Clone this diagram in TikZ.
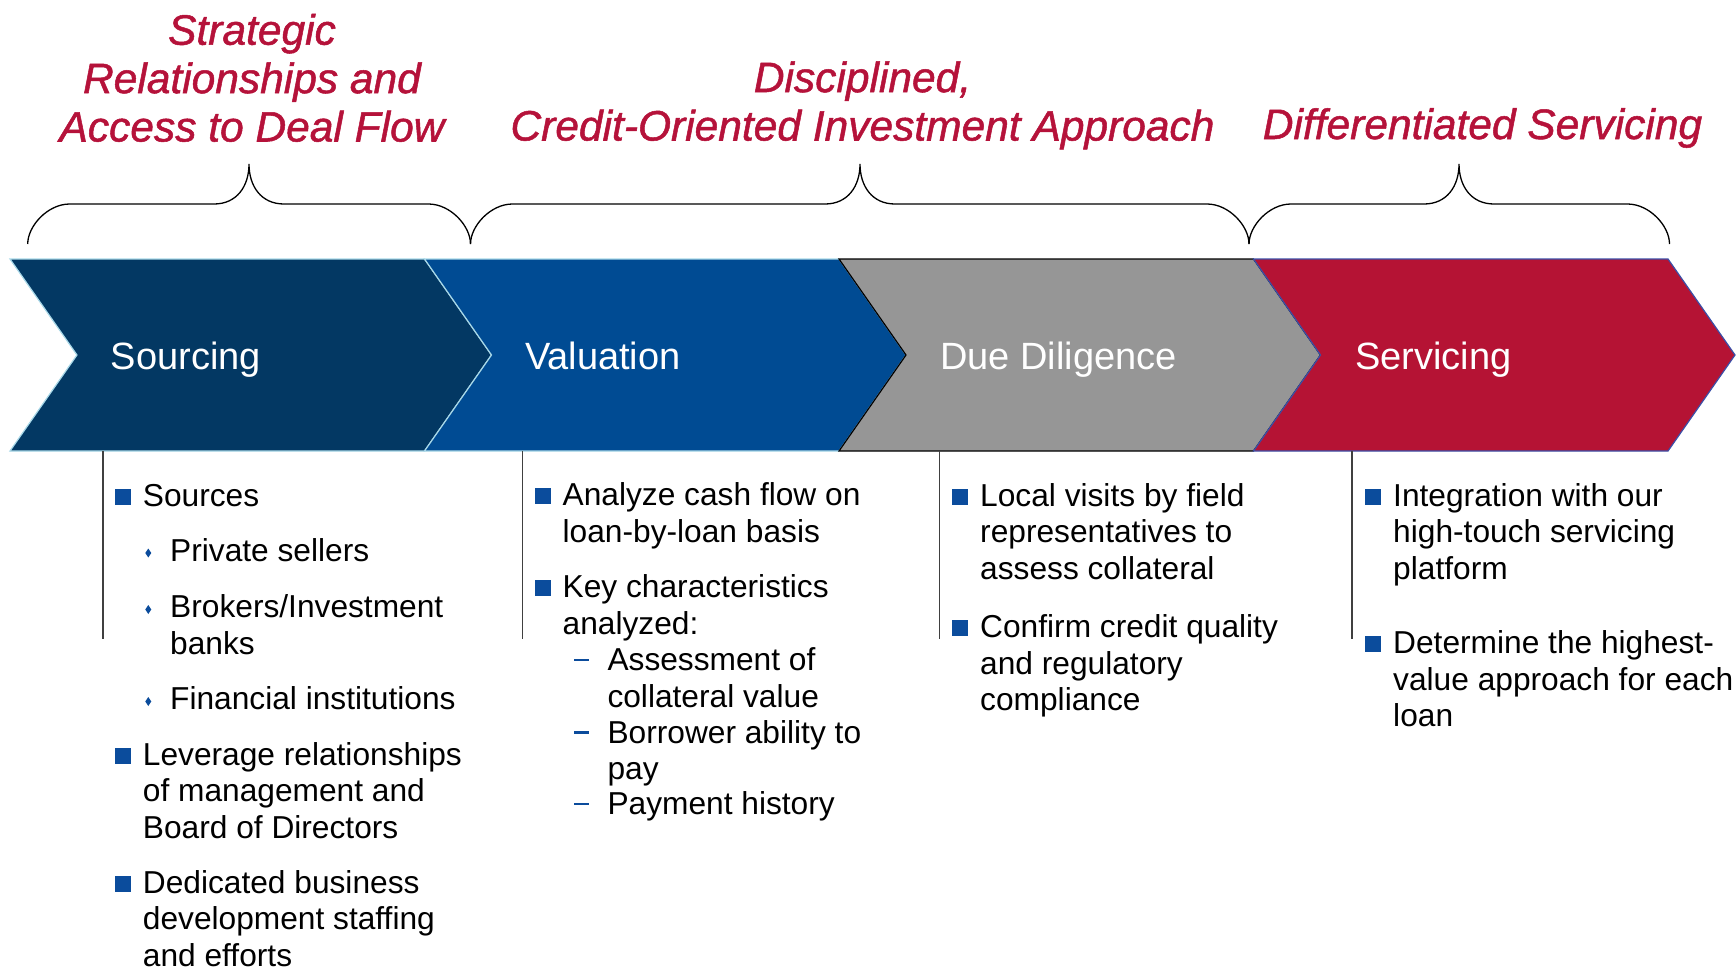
\documentclass[tikz,border=0pt]{standalone}
\usepackage{fontspec}
\setmainfont{Liberation Sans}
\newfontfamily\themefont[FakeBold=1.2]{Liberation Sans Italic}
\usetikzlibrary{calc}

\definecolor{srcnavy}{HTML}{033863}
\definecolor{valblue}{HTML}{004B93}
\definecolor{ddgray}{HTML}{969696}
\definecolor{servred}{HTML}{B51334}
\definecolor{themered}{HTML}{B5123A}
\definecolor{bulletblue}{HTML}{0B4C9C}
\definecolor{edgecyan}{HTML}{A8D8E8}
\definecolor{edgeblue}{HTML}{3A4FA8}
\definecolor{sepgray}{HTML}{404040}

% Bullets sit on the first line of a text node; the node's base is its last
% line, so #2 is the distance from the first line down to that base line.
\newcommand\sqbullet[2]{\fill[bulletblue] ($(#1.base west)+(-27.7,-1.5-#2)$) rectangle ++(16,-16);}
\newcommand\dmbullet[2]{\fill[bulletblue] ($(#1.base west)+(-21.7,-12.5-#2)$) -- ++(3,4.5) -- ++(-3,4.5) -- ++(-3,-4.5) -- cycle;}
\newcommand\dashbullet[2]{\fill[bulletblue] ($(#1.base west)+(-33.3,-9.5-#2)$) rectangle ++(15,-2.5);}
% curly brace from L to R with its tip at M
\newcommand\topbrace[3]{%
  \draw[brace] (#1,244) .. controls (#1,226) and (#1+20,204) .. (#1+42,204)
    -- (#2-35,204) .. controls (#2-12,204) and (#2,186) .. (#2,164)
    .. controls (#2,186) and (#2+12,204) .. (#2+35,204)
    -- (#3-42,204) .. controls (#3-20,204) and (#3,226) .. (#3,244);}

\begin{document}
\begin{tikzpicture}[x=1pt,y=-1pt,
  body/.style={font=\fontsize{31.7}{36.5}\selectfont, inner sep=0pt, anchor=base west, align=left, text=black},
  stage/.style={font=\fontsize{38}{44}\selectfont, text=white, inner sep=0pt, anchor=base west},
  theme/.style={font=\themefont\fontsize{42.5}{48.4}\selectfont, text=themered, inner sep=0pt, anchor=base, align=center},
  chev/.style={line width=1.2pt, line join=miter},
  brace/.style={black, line width=1.3pt},
  sepline/.style={sepgray, line width=1.3pt}]
\useasboundingbox (0,0) rectangle (1736,969);

% stage chevrons
\path[chev, fill=srcnavy, draw=edgecyan] (10,259) -- ++(414.5,0) -- ++(67,96) -- ++(-67,96) -- ++(-414.5,0) -- ++(67,-96) -- cycle;
\path[chev, fill=valblue, draw=edgecyan] (424.5,259) -- ++(414.5,0) -- ++(67,96) -- ++(-67,96) -- ++(-414.5,0) -- ++(67,-96) -- cycle;
\path[chev, fill=ddgray, draw=black] (839,259) -- ++(414.5,0) -- ++(67,96) -- ++(-67,96) -- ++(-414.5,0) -- ++(67,-96) -- cycle;
\path[chev, fill=servred, draw=edgeblue] (1253.5,259) -- ++(414.5,0) -- ++(67,96) -- ++(-67,96) -- ++(-414.5,0) -- ++(67,-96) -- cycle;

\node[stage] (sourcing) at (110.7,369.5) {Sourcing};
\node[stage] (valuation) at (524.8,369.5) {Valuation};
\node[stage] (diligence) at (940,369.5) {Due Diligence};
\node[stage] (servicing) at (1355,369.5) {Servicing};

% themes and their braces
\node[theme] (theme1) at (252,141.5) {Strategic\\Relationships and\\Access to Deal Flow};
\node[theme] (theme2) at (862.5,140.5) {Disciplined,\\Credit-Oriented Investment Approach};
\node[theme] (theme3) at (1482.5,139) {Differentiated Servicing};

\topbrace{27.7}{249}{470.5}
\topbrace{470.5}{860}{1249}
\topbrace{1249}{1459}{1669.5}

% column separators
\draw[sepline] (103,451) -- (103,639);
\draw[sepline] (522.7,451) -- (522.7,639);
\draw[sepline] (939.5,451) -- (939.5,639);
\draw[sepline] (1352,451) -- (1352,639);

% Sourcing column
\node[body] (src) at (142.7,506) {Sources};
\node[body] (ps) at (170,561) {Private sellers};
\node[body] (bk) at (170,654) {Brokers/Investment\\banks};
\node[body] (fi) at (170,709.5) {Financial institutions};
\node[body] (lev) at (142.7,838) {Leverage relationships\\of management and\\Board of Directors};
\node[body] (ded) at (142.7,966) {Dedicated business\\development staffing\\and efforts};
\sqbullet{src}{0}\dmbullet{ps}{0}\dmbullet{bk}{36.5}\dmbullet{fi}{0}\sqbullet{lev}{73}\sqbullet{ded}{73}

% Valuation column
\node[body] (acf) at (562.5,542) {Analyze cash flow on\\loan-by-loan basis};
\node[body] (kc) at (562.5,634) {Key characteristics\\analyzed:};
\node[body] (ac) at (607.3,707) {Assessment of\\collateral value};
\node[body] (ba) at (607.3,779.5) {Borrower ability to\\pay};
\node[body] (ph) at (607.3,814.5) {Payment history};
\sqbullet{acf}{36.5}\sqbullet{kc}{36.5}\dashbullet{ac}{36.5}\dashbullet{ba}{36.5}\dashbullet{ph}{0}

% Due diligence column
\node[body] (lv) at (980,579) {Local visits by field\\representatives to\\assess collateral};
\node[body] (cc) at (980,710.5) {Confirm credit quality\\and regulatory\\compliance};
\sqbullet{lv}{73}\sqbullet{cc}{73}

% Servicing column
\node[body] (ig) at (1393,579) {Integration with our\\high-touch servicing\\platform};
\node[body] (dt) at (1393,726.5) {Determine the highest-\\value approach for each\\loan};
\sqbullet{ig}{73}\sqbullet{dt}{73}
\end{tikzpicture}
\end{document}
